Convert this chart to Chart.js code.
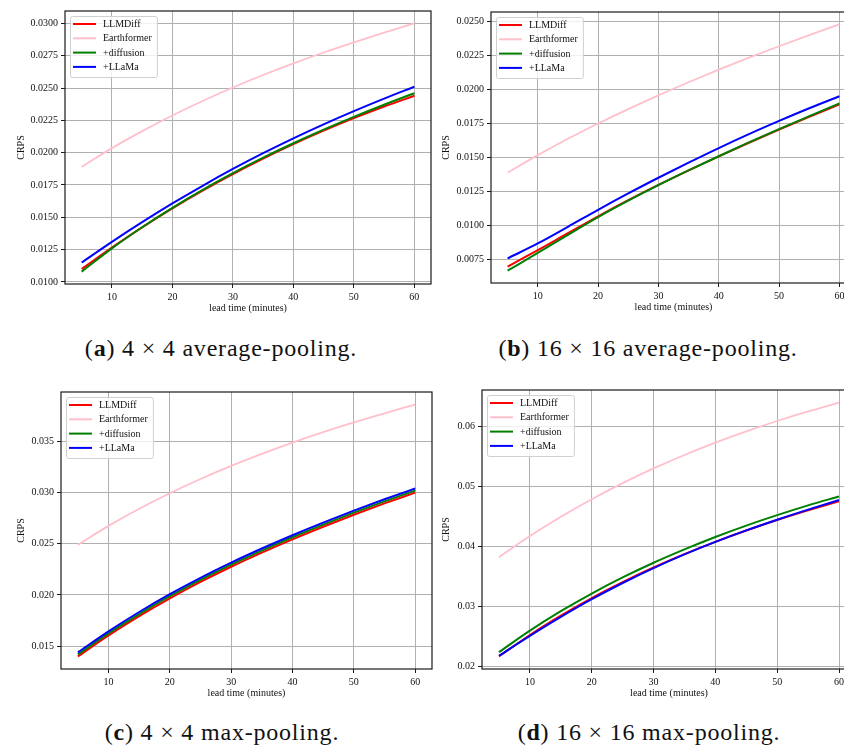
<!DOCTYPE html>
<html>
<head>
<meta charset="utf-8">
<script src="https://cdn.jsdelivr.net/npm/chart.js@4.4.1/dist/chart.umd.min.js"></script>
<style>
  body { margin: 0; width: 844px; height: 749px; overflow: hidden; background: #fff; position: relative; }
  .panel { position: absolute; }
  .cap { position: absolute; font-family: "Liberation Serif", serif; font-size: 24px; line-height: 24px;
         letter-spacing: 0.8px; color: #111; white-space: nowrap; transform: translateX(-50%); }
</style>
</head>
<body>
<div class="panel" style="left:0px;top:0px"><canvas id="chartA" width="436" height="318"></canvas></div>
<div class="panel" style="left:422px;top:0px"><canvas id="chartB" width="439" height="317"></canvas></div>
<div class="panel" style="left:0px;top:380px"><canvas id="chartC" width="437" height="323"></canvas></div>
<div class="panel" style="left:422px;top:380px"><canvas id="chartD" width="439" height="323"></canvas></div>

<div class="cap" style="left:221px;top:336px">(<b>a</b>) 4 × 4 average-pooling.</div>
<div class="cap" style="left:648px;top:336px">(<b>b</b>) 16 × 16 average-pooling.</div>
<div class="cap" style="left:222px;top:720px">(<b>c</b>) 4 × 4 max-pooling.</div>
<div class="cap" style="left:649px;top:720px">(<b>d</b>) 16 × 16 max-pooling.</div>

<script>
// lead time in minutes
const leadTimes = [5, 10, 15, 20, 25, 30, 35, 40, 45, 50, 55, 60];
const xTicks = [10, 20, 30, 40, 50, 60];

const seriesNames = ['LLMDiff', 'Earthformer', '+diffusion', '+LLaMa'];
const seriesColors = ['#ff0000', '#ffc0cb', '#008000', '#0000ff'];

// (a) 4x4 average-pooling
const avg4LLMDiff     = [0.01100, 0.01265, 0.01422, 0.01569, 0.01706, 0.01834, 0.01954, 0.02066, 0.02170, 0.02267, 0.02357, 0.02440];
const avg4Earthformer = [0.01890, 0.02035, 0.02167, 0.02288, 0.02400, 0.02504, 0.02601, 0.02691, 0.02775, 0.02854, 0.02929, 0.03000];
const avg4Diffusion   = [0.01080, 0.01260, 0.01423, 0.01573, 0.01712, 0.01841, 0.01961, 0.02073, 0.02178, 0.02277, 0.02371, 0.02460];
const avg4LLaMa       = [0.01150, 0.01310, 0.01462, 0.01607, 0.01744, 0.01874, 0.01996, 0.02111, 0.02219, 0.02321, 0.02418, 0.02510];
const avg4Ticks = [0.0100, 0.0125, 0.0150, 0.0175, 0.0200, 0.0225, 0.0250, 0.0275, 0.0300];

// (b) 16x16 average-pooling
const avg16LLMDiff     = [0.00700, 0.00820, 0.00945, 0.01069, 0.01187, 0.01299, 0.01406, 0.01509, 0.01609, 0.01706, 0.01799, 0.01890];
const avg16Earthformer = [0.01390, 0.01518, 0.01638, 0.01750, 0.01856, 0.01957, 0.02053, 0.02145, 0.02233, 0.02317, 0.02399, 0.02478];
const avg16Diffusion   = [0.00670, 0.00800, 0.00933, 0.01063, 0.01184, 0.01298, 0.01406, 0.01510, 0.01611, 0.01709, 0.01804, 0.01898];
const avg16LLaMa       = [0.00760, 0.00870, 0.00992, 0.01117, 0.01237, 0.01352, 0.01463, 0.01570, 0.01672, 0.01769, 0.01862, 0.01950];
const avg16Ticks = [0.0075, 0.0100, 0.0125, 0.0150, 0.0175, 0.0200, 0.0225, 0.0250];

// (c) 4x4 max-pooling
const max4LLMDiff     = [0.01400, 0.01605, 0.01794, 0.01968, 0.02128, 0.02276, 0.02414, 0.02544, 0.02667, 0.02784, 0.02895, 0.03000];
const max4Earthformer = [0.02490, 0.02675, 0.02842, 0.02994, 0.03133, 0.03261, 0.03379, 0.03489, 0.03591, 0.03686, 0.03775, 0.03860];
const max4Diffusion   = [0.01420, 0.01625, 0.01814, 0.01988, 0.02148, 0.02296, 0.02434, 0.02564, 0.02687, 0.02804, 0.02915, 0.03020];
const max4LLaMa       = [0.01440, 0.01645, 0.01834, 0.02008, 0.02168, 0.02316, 0.02454, 0.02584, 0.02707, 0.02824, 0.02935, 0.03040];
const max4Ticks = [0.015, 0.020, 0.025, 0.030, 0.035];

// (d) 16x16 max-pooling
const max16LLMDiff     = [0.02170, 0.02525, 0.02846, 0.03140, 0.03405, 0.03648, 0.03870, 0.04075, 0.04263, 0.04437, 0.04598, 0.04750];
const max16Earthformer = [0.03820, 0.04171, 0.04492, 0.04784, 0.05052, 0.05296, 0.05520, 0.05725, 0.05913, 0.06085, 0.06244, 0.06390];
const max16Diffusion   = [0.02240, 0.02598, 0.02921, 0.03215, 0.03482, 0.03727, 0.03950, 0.04156, 0.04345, 0.04519, 0.04681, 0.04830];
const max16LLaMa       = [0.02180, 0.02510, 0.02825, 0.03120, 0.03390, 0.03638, 0.03865, 0.04073, 0.04265, 0.04443, 0.04610, 0.04770];
const max16Ticks = [0.02, 0.03, 0.04, 0.05, 0.06];

const FONT = '"Liberation Serif", "Times New Roman", serif';

// spines all round + legend box in the upper left, like matplotlib
const frameLegend = {
    id: 'frameLegend',
    afterDatasetsDraw(chart) {
        const { ctx, chartArea: a } = chart;
        ctx.save();
        ctx.strokeStyle = '#1a1a1a';
        ctx.lineWidth = 1.2;
        ctx.strokeRect(a.left, a.top, a.right - a.left, a.bottom - a.top);

        ctx.font = '10px ' + FONT;
        const labels = chart.data.datasets.map(d => d.label);
        const tw = Math.max(...labels.map(t => ctx.measureText(t).width));
        const bx = a.left + 5, by = a.top + 5, bw = tw + 38, bh = 61;
        ctx.beginPath();
        ctx.roundRect(bx + 0.5, by + 0.5, bw, bh, 2);
        ctx.fillStyle = 'rgba(255,255,255,0.8)';
        ctx.fill();
        ctx.strokeStyle = '#d0d0d0';
        ctx.lineWidth = 1;
        ctx.stroke();

        chart.data.datasets.forEach((d, i) => {
            const y = by + 8 + i * 14.3;
            ctx.beginPath();
            ctx.moveTo(bx + 3, y);
            ctx.lineTo(bx + 26, y);
            ctx.strokeStyle = d.borderColor;
            ctx.lineWidth = 2;
            ctx.stroke();
            ctx.fillStyle = '#111';
            ctx.textBaseline = 'middle';
            ctx.fillText(d.label, bx + 33, y + 0.5);
        });
        ctx.restore();
    }
};

function makePanel(id, series, yTicks, decimals, g) {
    const all = series.flat();
    const lo = Math.min(...all), hi = Math.max(...all);
    const pad = (hi - lo) * 0.05;
    const xPad = (leadTimes[leadTimes.length - 1] - leadTimes[0]) * 0.05;

    new Chart(document.getElementById(id), {
        type: 'line',
        data: {
            labels: leadTimes,
            datasets: series.map((vals, i) => ({
                label: seriesNames[i],
                data: vals.map((v, k) => ({ x: leadTimes[k], y: v })),
                borderColor: seriesColors[i],
                borderWidth: i === 1 ? 1.8 : 2,
                pointRadius: 0,
                cubicInterpolationMode: 'monotone',
                fill: false,
                order: 3 - i
            }))
        },
        options: {
            responsive: false,
            animation: false,
            layout: { padding: { top: g.top, right: 5, bottom: 0, left: 0 } },
            plugins: { legend: { display: false }, tooltip: { enabled: false } },
            scales: {
                x: {
                    type: 'linear',
                    min: leadTimes[0] - xPad,
                    max: leadTimes[leadTimes.length - 1] + xPad,
                    afterBuildTicks: s => { s.ticks = xTicks.map(v => ({ value: v })); },
                    afterFit: s => { s.height = 34; },
                    grid: { color: '#b0b0b0', lineWidth: 1, tickColor: '#1a1a1a', tickLength: 4 },
                    border: { display: false },
                    ticks: { color: '#111', font: { family: FONT, size: 10 }, padding: 3, maxRotation: 0,
                             callback: v => String(v) },
                    title: { display: true, text: 'lead time (minutes)', color: '#111',
                             font: { family: FONT, size: 10 }, padding: { top: 0, bottom: 4 } }
                },
                y: {
                    min: lo - pad,
                    max: hi + pad,
                    afterBuildTicks: s => { s.ticks = yTicks.map(v => ({ value: v })); },
                    afterFit: s => { s.width = g.yWidth; },
                    grid: { color: '#b0b0b0', lineWidth: 1, tickColor: '#1a1a1a', tickLength: 4 },
                    border: { display: false },
                    ticks: { color: '#111', font: { family: FONT, size: 10 }, padding: 3,
                             callback: v => Number(v).toFixed(decimals) },
                    title: { display: true, text: 'CRPS', color: '#111',
                             font: { family: FONT, size: 10 }, padding: { top: g.titlePad, bottom: 0 } }
                }
            }
        },
        plugins: [frameLegend]
    });
}

makePanel('chartA', [avg4LLMDiff, avg4Earthformer, avg4Diffusion, avg4LLaMa], avg4Ticks, 4,
          { top: 11, yWidth: 65, titlePad: 15 });
makePanel('chartB', [avg16LLMDiff, avg16Earthformer, avg16Diffusion, avg16LLaMa], avg16Ticks, 4,
          { top: 12, yWidth: 69, titlePad: 18 });
makePanel('chartC', [max4LLMDiff, max4Earthformer, max4Diffusion, max4LLaMa], max4Ticks, 3,
          { top: 12, yWidth: 61, titlePad: 15 });
makePanel('chartD', [max16LLMDiff, max16Earthformer, max16Diffusion, max16LLaMa], max16Ticks, 2,
          { top: 10, yWidth: 60, titlePad: 18 });
</script>
</body>
</html>
